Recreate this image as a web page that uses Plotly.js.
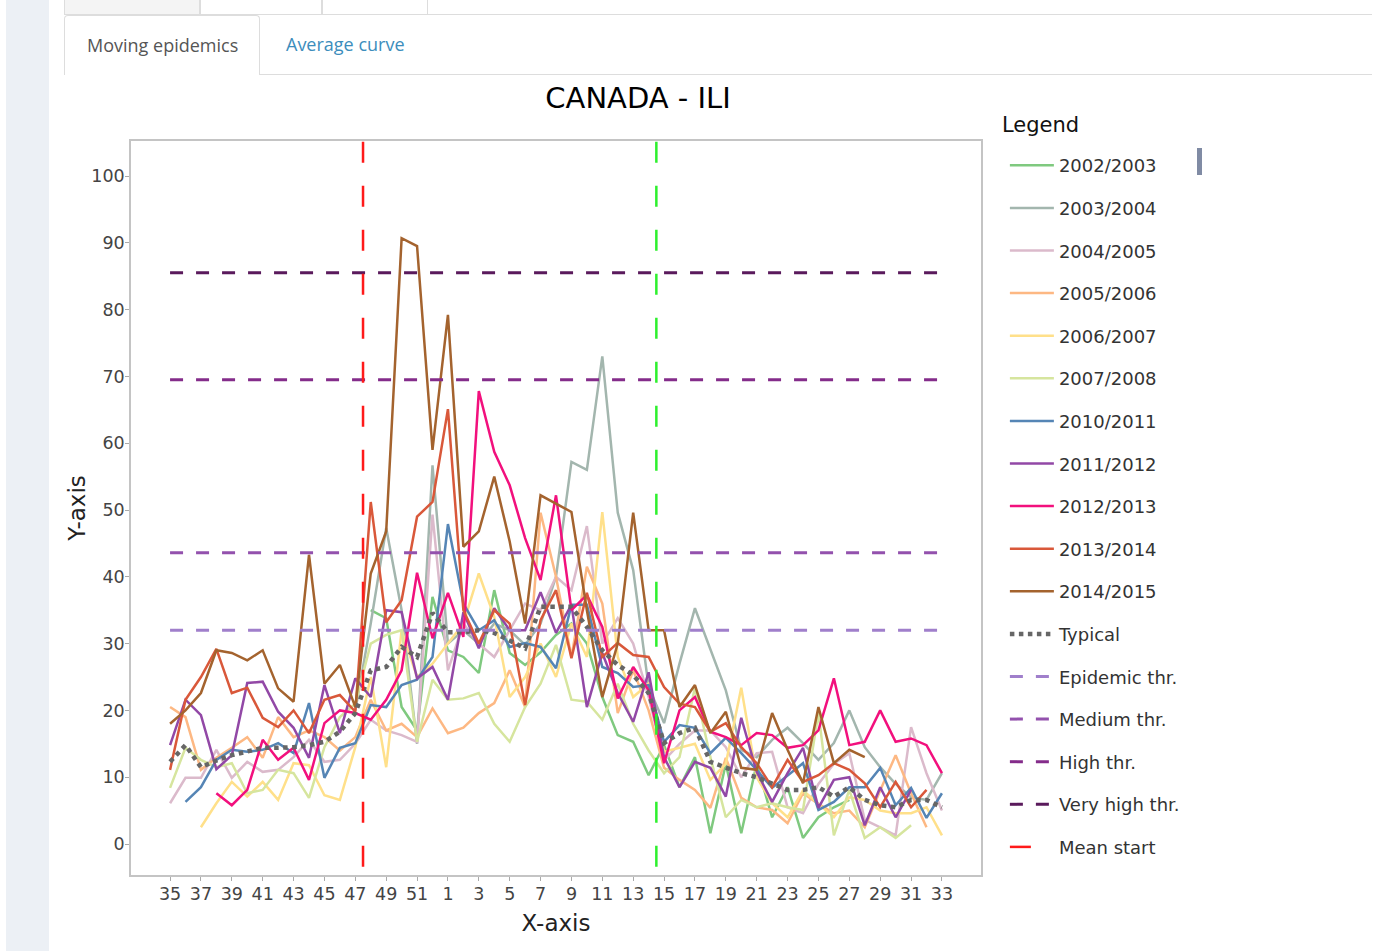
<!DOCTYPE html>
<html>
<head>
<meta charset="utf-8">
<script src="https://cdn.plot.ly/plotly-3.0.1.min.js"></script>
<style>
  html, body { margin: 0; padding: 0; background: #fff; }
  body { width: 1379px; height: 951px; overflow: hidden; position: relative; font-family: 'Open Sans', sans-serif; }
  #side { position: absolute; left: 6px; top: 0; width: 43px; height: 951px; background: #ecf0f5; }
  #toprow { position: absolute; left: 64px; top: 0; width: 1308px; height: 14px; border-bottom: 1px solid #ddd; }
  .tb { position: absolute; top: 0; height: 14px; border-left: 1px solid #ddd; border-right: 1px solid #ddd; box-sizing: border-box; }
  #nav { position: absolute; left: 64px; top: 15px; width: 1308px; height: 59px; border-bottom: 1px solid #ddd; }
  #tab1 { position: absolute; left: 0; top: 0; width: 196px; height: 60px; box-sizing: border-box; border: 1px solid #ddd; border-bottom: none; border-radius: 4px 4px 0 0; background: #fff; color: #555; font-size: 18px; line-height: 58px; padding-left: 22px; }
  #tab2 { position: absolute; left: 222px; top: 0; height: 59px; line-height: 58px; color: #3c8dbc; font-size: 18px; }
  #chart { position: absolute; left: 64px; top: 75px; width: 1310px; height: 876px; }
</style>
</head>
<body>
<div id="side"></div>
<div id="toprow">
  <div class="tb" style="left:0;width:136px;background:#f4f4f4;"></div>
  <div class="tb" style="left:136px;width:122px;"></div>
  <div class="tb" style="left:258px;width:106px;"></div>
</div>
<div id="nav">
  <div id="tab1">Moving epidemics</div>
  <div id="tab2">Average curve</div>
</div>
<div id="chart"></div>
<script>
// ---------------- data ----------------
const weeks = [35,36,37,38,39,40,41,42,43,44,45,46,47,48,49,50,51,52,
  1,2,3,4,5,6,7,8,9,10,11,12,13,14,15,16,17,18,19,20,21,22,23,24,25,26,27,28,29,30,31,32,33];

const seasonNames = ["2002/2003","2003/2004","2004/2005","2005/2006","2006/2007","2007/2008",
  "2010/2011","2011/2012","2012/2013","2013/2014","2014/2015"];

const s2002 = [null,null,null,null,null,null,null,null,null,null,null,null,null,35,33.8,20.5,17,37,
  29,28,25.6,38,28.6,26.8,28.7,31.3,33,30,22,16.3,15.3,10.3,14.8,8.5,13,1.6,12,1.6,12,4,8.5,0.9,4,5.5,6.6,null,null,null,null,null,null];
const s2003 = [null,null,null,null,null,null,null,null,null,null,null,null,20,33,47.3,35,15,56.7,
  30,32,30,33,32,29.8,33,40,57.2,56,73,49.6,41,23.5,18.1,27,35.3,29,23,14.1,13,15.6,17.4,15.1,12.6,15.1,20,14.5,11.5,9,7,6.6,10.6];
const s2004 = [6.1,9.9,9.9,14.1,9.9,12.3,10.8,11.1,13,15.6,12.3,12.6,15,18.6,17,16.3,15.3,49.3,
  26,33,30,28,32,36,35,40,38,47.6,30,33.8,30,22,12.5,15,17,17,14.5,10,13.6,13.8,5.5,4.6,9,12,13.6,3.6,2.5,1.3,17.5,10.6,5];
const s2005 = [20.5,19,11.1,12.9,14.4,16,12.9,19,16,17,16,14,16,21.6,17,18,16,20.3,
  16.6,17.4,19.6,21.1,26,20.5,49.6,40,28,41.5,36,19.6,26,20,11.4,9.6,8.1,5.4,12.9,6.9,5.5,5.1,3.1,7.6,6,4.6,5,2.5,8,13.3,7.6,2.5,null];
const s2006 = [null,null,2.5,6.1,9.3,7.1,9.3,6.6,12.1,11.8,7.3,6.6,14.5,25,11.5,32,25,27,
  30,33,40.5,34,22,25,30,25,33,28,49.7,28,22,24,13.8,14.4,15,9.6,12,23.4,10,6.1,4,8,6,4,7,6.6,5,4.6,4.6,5.5,1.3];
const s2007 = [8.4,14.4,12.6,11.5,12.1,7.6,8.1,11.1,10.6,6.9,14.5,19,21,30,31.3,32,15.3,24.6,
  21.6,21.8,22.6,18,15.3,20.5,24,29.8,21.6,21.3,18.6,24,18,14,10.6,13,23.4,13,4,6.6,5.5,6.1,5.5,5.1,19.6,1.3,8.1,0.9,2.5,0.9,2.8,null,null];
const s2010 = [null,6.3,8.5,12.6,14.1,13.8,14.1,15.1,13.6,21.1,9.9,14.4,15.1,20.8,20.5,23.8,24.6,28,
  47.9,36,32,33.5,29.5,30.1,29.5,26.3,35.8,35.8,26.5,25.6,23.5,23.8,15.3,17.8,17.4,13.6,15.9,13.6,11.1,8.4,10.3,12.1,5.1,6.3,8.5,8.5,11.4,5.8,8.4,3.9,7.6];
const s2011 = [14.8,21.6,19.3,11.2,13.3,24.1,24.3,19.8,17.4,12.9,23.8,16.6,24.8,22,35,34.7,24.8,26.5,
  21.6,34.7,29.3,35.3,32,32,37.7,31.6,35.8,20.5,28.6,22.6,18.3,25.7,13,8.5,12.3,11.4,7.1,18.9,10.8,6.3,10.6,14.4,5.4,9.6,10,2.8,8.5,4,8.1,null,null];
const s2012 = [null,null,null,7.6,5.8,8.1,15.6,12.6,14.4,9.6,18.1,20,19.6,18.6,21.6,26,40.6,30.8,
  37.6,31,67.8,58.7,53.7,45.8,39.5,52.2,35,37.3,32.5,21.8,26.5,23,12.1,20,22,16.8,16,14.8,16.6,16.3,14.4,14.8,17,24.8,14.8,15.3,20,15.3,15.8,14.8,10.6];
const s2013 = [11.1,21.6,25,29.2,22.6,23.4,18.9,17.5,20,16.6,21.6,22.3,19.8,51.2,33.2,36.5,49,51.2,
  65.1,35,30,35,33,20.8,33.5,38,27.8,37.6,28,30.1,28.3,28,23.5,21,20.5,16.8,18.1,14.5,12.1,8.5,12.6,9.3,10.3,12.1,11.1,9.1,5.5,9.3,5.5,8.1,null];
const s2014 = [18,20,22.6,29,28.6,27.5,29,23.3,21.3,43.3,24,26.8,20.5,40.5,46.8,90.7,89.5,59,
  79.2,44.5,46.8,55,45.3,33,52.2,51,49.7,35,22,30,49.6,32,32,20.5,23.8,16.6,19.8,11.4,11.1,19.6,14.1,9.1,20.5,12.1,14.1,13,null,null,null,null,null];
const typical = [12.3,14.8,11.5,12.5,13.3,13.8,14.4,14.4,14.5,14.8,15.3,16.8,19.6,26,26.5,29.5,28,34.6,
  31.7,31.7,32,31.6,30.5,29.3,35.5,35.5,35.5,32.5,29,26.8,25.3,22.6,15.1,16.6,17.4,12.3,11.5,10.6,10,9.1,8.1,8.1,8.5,7.1,8.5,6.6,5.8,5.5,6.6,6.6,5.5];

const thresholdNames = ["Epidemic thr.","Medium thr.","High thr.","Very high thr."];
const thresholdValues = [32.0, 43.6, 69.5, 85.5];
const meanStartWeek = 47;   // line drawn between week 47 and 48
const meanEndWeek = 14;     // line drawn between week 14 and 15

// ---------------- styles ----------------
const seasonColors = ["#7fc97f","#a3b6ae","#dbbacb","#fdb883","#ffe08a","#d6e59e",
  "#5585b5","#9248a6","#f2107d","#d9583a","#a4632e"];
const thresholdColors = ["#a07fcb","#9351ad","#842c8a","#5a1a5c"];

const xIdx = weeks.map((w, i) => i);
const FONT = "DejaVu Sans, Verdana, sans-serif";
const allSeries = [s2002,s2003,s2004,s2005,s2006,s2007,s2010,s2011,s2012,s2013,s2014];

const traces = [];
allSeries.forEach((s, k) => {
  traces.push({
    type: "scatter", mode: "lines", name: seasonNames[k], legendgroup: "g" + k,
    x: xIdx, y: s, connectgaps: false,
    line: {color: seasonColors[k], width: 2.5}
  });
});
traces.push({
  type: "scatter", mode: "lines", name: "Typical", legendgroup: "typ",
  x: xIdx, y: typical,
  line: {color: "#666666", width: 4.5, dash: "dot"}
});
thresholdValues.forEach((v, k) => {
  traces.push({
    type: "scatter", mode: "lines", name: thresholdNames[k], legendgroup: "t" + k,
    x: [xIdx[0], xIdx[xIdx.length - 1]], y: [v, v],
    line: {color: thresholdColors[k], width: 3, dash: "13px,13px"}
  });
});
const startPos = weeks.indexOf(meanStartWeek) + 0.5;
const endPos = weeks.indexOf(meanEndWeek) + 0.5;
traces.push({
  type: "scatter", mode: "lines", name: "Mean start", legendgroup: "ms",
  x: [startPos, startPos], y: [-10, 110],
  line: {color: "#ff1a1a", width: 2.5, dash: "21px,23px"}
});
traces.push({
  type: "scatter", mode: "lines", name: "Mean end", legendgroup: "me", showlegend: false,
  x: [endPos, endPos], y: [-10, 110],
  line: {color: "#2ef02e", width: 2.5, dash: "21px,23px"}
});

const tickIdx = xIdx.filter(i => i % 2 === 0);
const layout = {
  width: 1310, height: 876,
  margin: {l: 67, r: 393, t: 66, b: 76},
  paper_bgcolor: "#ffffff", plot_bgcolor: "#ffffff",
  font: {family: FONT, color: "#444"},
  title: {text: "CANADA - ILI", font: {family: FONT, size: 29, color: "#000"},
          x: 0.5965, xref: "paper", xanchor: "center", y: 0.9737, yref: "container", yanchor: "middle"},
  xaxis: {
    range: [-2.53, 52.53], tickmode: "array", tickvals: tickIdx, ticktext: tickIdx.map(i => String(weeks[i])),
    ticks: "outside", ticklen: 4, tickcolor: "#aaa", tickfont: {size: 17.5, color: "#444"},
    ticklabelstandoff: -2,
    showgrid: false, zeroline: false, showline: true, linecolor: "#c4c4c4", linewidth: 1.5, mirror: true,
    title: {text: "X-axis", font: {size: 23, color: "#222"}, standoff: 12}
  },
  yaxis: {
    range: [-4.64, 105.24], dtick: 10, tick0: 0,
    ticks: "outside", ticklen: 4, tickcolor: "#aaa", tickfont: {size: 17.5, color: "#444"},
    ticklabelstandoff: -3,
    showgrid: false, zeroline: false, showline: true, linecolor: "#c4c4c4", linewidth: 1.5, mirror: true,
    title: {text: "Y-axis", font: {size: 23, color: "#222"}, standoff: 2}
  },
  legend: {
    x: 1.0281, xanchor: "left", y: 0.9917, yanchor: "top",
    font: {family: FONT, size: 18, color: "#333"},
    traceorder: "grouped", tracegroupgap: 16.2, itemwidth: 44,
    maxheight: 1000,
    bgcolor: "rgba(0,0,0,0)"
  },
  annotations: [{
    text: "Legend", xref: "paper", yref: "paper", x: 1.0224, y: 1.0218,
    xanchor: "left", yanchor: "middle", showarrow: false,
    font: {family: FONT, size: 21, color: "#111"}
  }],
  shapes: [{
    type: "rect", xref: "paper", yref: "paper",
    x0: 1.2541, x1: 1.26, y0: 0.9537, y1: 0.9905,
    fillcolor: "#808BA4", line: {width: 0}
  }],
  showlegend: true
};

Plotly.newPlot("chart", traces, layout, {displayModeBar: false, responsive: false});
</script>
</body>
</html>
